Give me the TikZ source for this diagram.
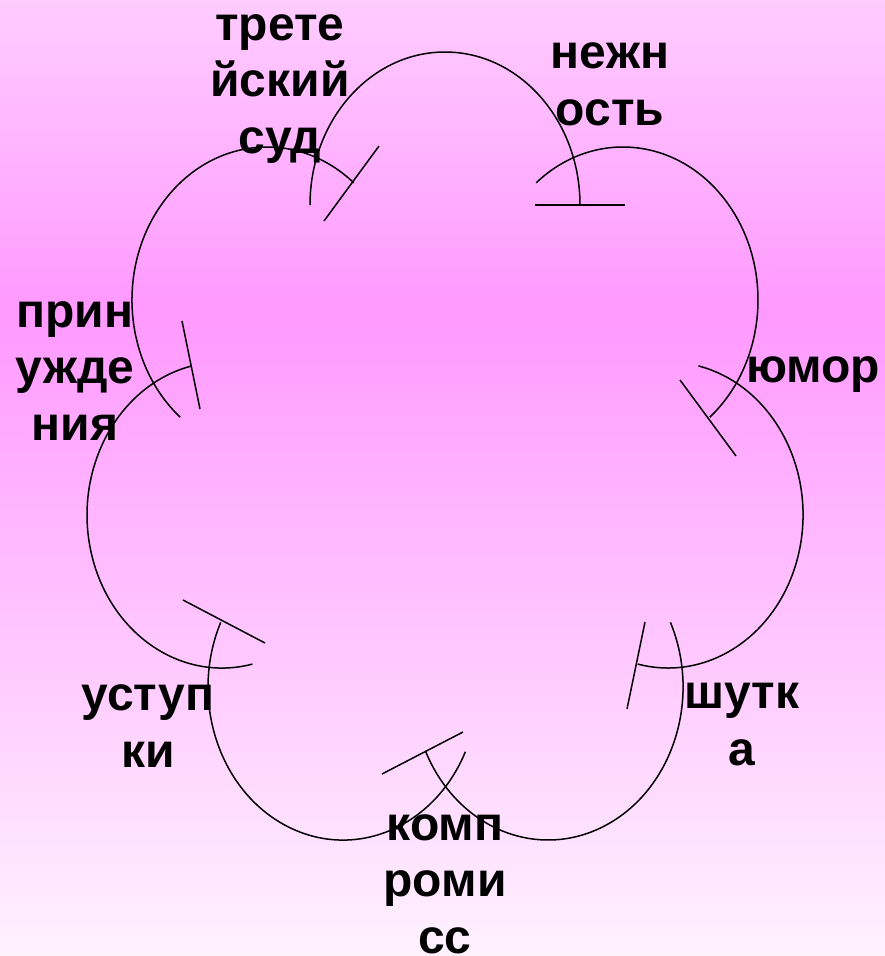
\documentclass[tikz,border=0pt]{standalone}
\usepackage{fontspec}
\setmainfont{Liberation Sans}
\begin{document}
\begin{tikzpicture}[x=1pt,y=-1pt,
  lobe/.style={line width=1.5pt, black},
  tbar/.style={line width=1.5pt, black},
  lbl/.style={font=\bfseries\fontsize{48}{56.5}\selectfont, align=center, anchor=base, inner sep=0pt}]
\useasboundingbox (0,0) rectangle (885,956);
\shade[top color={rgb,255:red,255;green,204;blue,255}, bottom color={rgb,255:red,255;green,153;blue,255}] (0,0) rectangle (885,311);
\shade[top color={rgb,255:red,255;green,153;blue,255}, bottom color={rgb,255:red,255;green,242;blue,255}] (0,310) rectangle (885,956);
% lobes
\draw[lobe] (310,205) arc[start angle=180, end angle=360, x radius=135, y radius=153] coordinate (eT);
\draw[lobe] (536.2,182.8) arc[start angle=230, end angle=410, x radius=135, y radius=153] coordinate (eUR);
\draw[lobe] (698.4,365.9) arc[start angle=283, end angle=463, x radius=135, y radius=153] coordinate (eR);
\draw[lobe] (670.4,622.3) arc[start angle=335, end angle=515, x radius=135, y radius=153] coordinate (eLR);
\draw[lobe] (465.4,751.7) arc[start angle=25, end angle=205, x radius=135, y radius=153] coordinate (eLL);
\draw[lobe] (252.4,664.1) arc[start angle=77, end angle=257, x radius=135, y radius=153] coordinate (eL);
\draw[lobe] (180.2,417.2) arc[start angle=130, end angle=310, x radius=135, y radius=153] coordinate (eUL);
% bars
\draw[tbar] (535,205) -- (625,205);
\draw[tbar] (680,380) -- (736,456);
\draw[tbar] (645,622) -- (627,709);
\draw[tbar] (382,774) -- (463,732);
\draw[tbar] (183,600) -- (265,643);
\draw[tbar] (182,321) -- (200,409);
\draw[tbar] (324,221) -- (379,146);
% labels (anchor = baseline of last line)
\node[lbl] (l1) at (280,153) {трете\\йский\\суд};
\node[lbl] (l2) at (610,125) {нежн\\ость};
\node[lbl] (l3) at (813,382) {юмор};
\node[lbl] (l4) at (742,765) {шутк\\а};
\node[lbl] (l5) at (445,953) {комп\\роми\\сс};
\node[lbl] (l6) at (148,767) {уступ\\ки};
\node[lbl] (l7) at (75,440) {прин\\ужде\\ния};
\end{tikzpicture}
\end{document}
